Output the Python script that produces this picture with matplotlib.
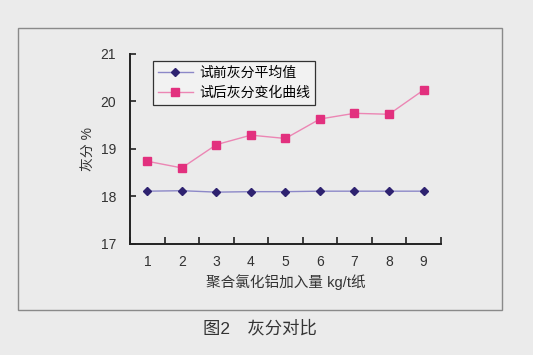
import matplotlib.pyplot as plt
from matplotlib.patches import Rectangle

plt.rcParams['font.family'] = ['Liberation Sans', 'Noto Sans CJK SC', 'DejaVu Sans']

x = [1, 2, 3, 4, 5, 6, 7, 8, 9]
before = [18.11, 18.12, 18.09, 18.10, 18.10, 18.11, 18.11, 18.11, 18.11]
after = [18.74, 18.60, 19.09, 19.29, 19.22, 19.63, 19.75, 19.73, 20.24]
yticks = [17, 18, 19, 20, 21]

bg = '#ebebeb'
fig = plt.figure(figsize=(5.33, 3.55), dpi=100, facecolor=bg)
fig.patches.append(Rectangle((0.034, 0.127), 0.908, 0.794, transform=fig.transFigure,
                             fill=False, edgecolor='#8a8a8a', linewidth=1.0))

ax = fig.add_axes([0.244, 0.313, 0.583, 0.535])
ax.set_facecolor(bg)

ax.plot(x, before, color='#8c88c8', linewidth=1.0, marker='D', markersize=4.5,
        markerfacecolor='#2e2270', markeredgecolor='#2e2270', label='试前灰分平均值')
ax.plot(x, after, color='#ec86b4', linewidth=1.0, marker='s', markersize=5.5,
        markerfacecolor='#e2307e', markeredgecolor='#e2307e', label='试后灰分变化曲线')

ax.set_xlim(0.5, 9.5)
ax.set_ylim(17, 21)
ax.set_yticks(yticks)
ax.set_xticks(x)
ax.set_xticks([i + 0.5 for i in range(0, 10)], minor=True)
ax.tick_params(axis='x', which='major', length=0, labelsize=10, pad=8, colors='#333333')
ax.tick_params(axis='x', which='minor', direction='in', length=5, width=1.2, color='#222222')
ax.tick_params(axis='y', direction='in', length=4, width=1.2, labelsize=10, pad=10, colors='#333333')
ax.tick_params(axis='y', color='#222222')

for s in ['top', 'right']:
    ax.spines[s].set_visible(False)
for s in ['left', 'bottom']:
    ax.spines[s].set_linewidth(1.4)
    ax.spines[s].set_color('#222222')

ax.set_ylabel('灰分 %', fontsize=10, color='#333333', labelpad=4)
ax.set_xlabel('聚合氯化铝加入量 kg/t纸', fontsize=10.5, color='#333333', labelpad=4)

leg = ax.legend(loc='upper left', bbox_to_anchor=(0.074, 0.965), borderaxespad=0,
                fontsize=10, frameon=True, fancybox=False, borderpad=0.35,
                labelspacing=0.45, handlelength=2.5, handletextpad=0.5)
leg.get_frame().set_edgecolor('#333333')
leg.get_frame().set_facecolor('#f2f2f2')
leg.get_frame().set_linewidth(0.9)
leg.get_frame().set_alpha(1)

fig.text(0.488, 0.075, '图2　灰分对比', ha='center', va='center', fontsize=12.5, color='#333333')

fig.savefig('out.png', dpi=100, facecolor=bg)
